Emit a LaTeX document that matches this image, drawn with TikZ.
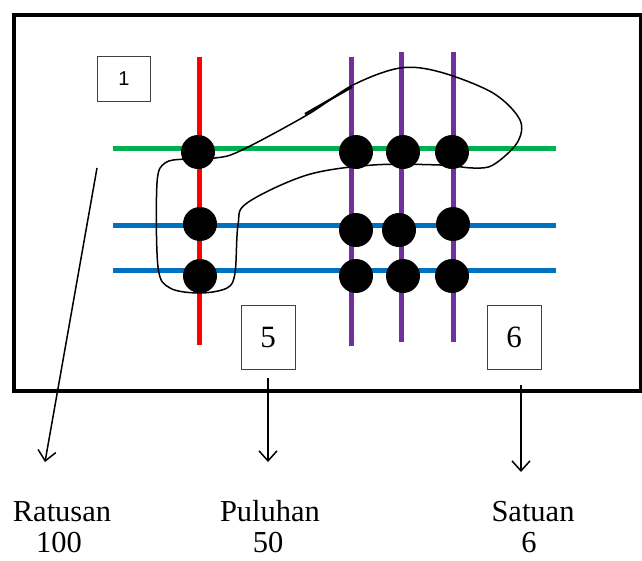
\documentclass[tikz,border=0pt]{standalone}
\usepackage{fontspec}
\setmainfont{Liberation Serif}
\newfontfamily\labelsans{Liberation Sans}
\usetikzlibrary{arrows.meta}
\definecolor{rodred}{RGB}{255,0,0}
\definecolor{rodgreen}{RGB}{0,176,80}
\definecolor{rodblue}{RGB}{0,112,192}
\definecolor{rodpurple}{RGB}{112,48,160}
\tikzset{
  frame/.style={draw=black, line width=4pt},
  digitbox/.style={draw=black!75, line width=1pt, minimum width=54pt, minimum height=64pt, inner sep=0pt, font=\fontsize{31}{31}\selectfont},
  rod/.style={line width=5pt},
  bead/.style={circle, fill=black, minimum size=34pt, inner sep=0pt},
  pointer/.style={line width=1.5pt, -{Straight Barb[length=10pt, width=18pt, line width=1.5pt]}},
  caption/.style={anchor=base, font=\fontsize{30.5}{30.5}\selectfont, inner sep=0pt},
  lasso/.style={draw=black, line width=1.5pt}
}
\begin{document}
\begin{tikzpicture}[x=1pt, y=-1pt]
\useasboundingbox (0,0) rectangle (642,560);
% outer frame
\draw[frame] (14,15) rectangle (641,391);

% place-value boxes
\node[digitbox, minimum width=53pt, minimum height=45pt, font=\labelsans\fontsize{20}{20}\selectfont] (boxH) at (124,78.5) {1};
\node[digitbox] (boxT) at (268,337) {5};
\node[digitbox] (boxO) at (514,337) {6};

% horizontal rods
\draw[rod, rodgreen] (113,148) -- (556,148);
\draw[rod, rodblue] (113,225) -- (556,225);
\draw[rod, rodblue] (113,270) -- (556,270);

% vertical rods
\draw[rod, rodred] (199,57) -- (199,345);
\draw[rod, rodpurple] (351,57) -- (351,346);
\draw[rod, rodpurple] (401,52) -- (401,342);
\draw[rod, rodpurple] (453,52) -- (453,342);

% beads on the hundreds rod
\node[bead] (h1) at (198,152) {};
\node[bead] (h2) at (200,224) {};
\node[bead] (h3) at (200,276) {};
% beads on the tens and ones rods
\node[bead] (t1) at (356,152) {};
\node[bead] (t2) at (403,152) {};
\node[bead] (t3) at (452,152) {};
\node[bead] (t4) at (356,230) {};
\node[bead] (t5) at (399,230) {};
\node[bead] (t6) at (453,224) {};
\node[bead] (t7) at (356,276) {};
\node[bead] (t8) at (403,276) {};
\node[bead] (t9) at (452,276) {};

% hand-drawn grouping loop
\draw[lasso] plot[smooth cycle, tension=0.55] coordinates {
  (215,158) (240,151) (307,115) (353,85) (400,68) (440,72) (493,93)
  (520,120) (517,143) (493,165) (473,168) (440,165) (373,165)
  (307,175) (247,203) (238,225) (235,273) (227,288) (200,293)
  (170,288) (158,267) (157,183) (165,163) (185,159)};
\draw[line width=2.2pt] (305,114) -- (352,87);

% arrows to the captions
\coordinate (srcH) at (97,168);
\coordinate (dstH) at (45,462);
\coordinate (srcT) at (268,378);
\coordinate (dstT) at (268,462);
\coordinate (srcO) at (521,385);
\coordinate (dstO) at (521,472);
\draw[pointer] (srcH) -- (dstH);
\draw[pointer] (srcT) -- (dstT);
\draw[pointer] (srcO) -- (dstO);

% captions
\node[caption] (capH) at (62,521) {Ratusan};
\node[caption] (valH) at (59,552) {100};
\node[caption] (capT) at (270,521) {Puluhan};
\node[caption] (valT) at (268,552) {50};
\node[caption] (capO) at (533,521) {Satuan};
\node[caption] (valO) at (529,552) {6};
\end{tikzpicture}
\end{document}
